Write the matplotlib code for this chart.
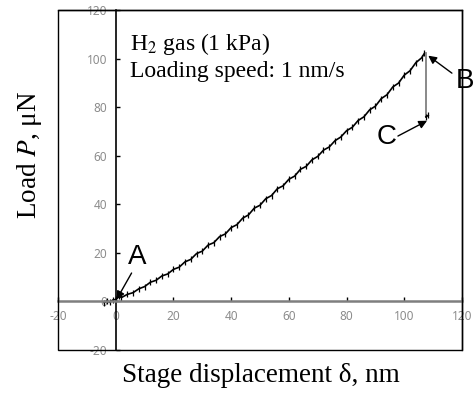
import matplotlib
matplotlib.use("Agg")
import matplotlib.pyplot as plt
from matplotlib.patches import Rectangle

# stage displacement (nm) and load (uN)
disp = [-4, -3, -2, -1, 0, 1, 2, 4, 6, 8, 10, 12, 14, 16, 18, 20, 22, 24, 26, 28,
        30, 32, 34, 36, 38, 40, 42, 44, 46, 48, 50, 52, 54, 56, 58, 60, 62, 64,
        66, 68, 70, 72, 74, 76, 78, 80, 82, 84, 86, 88, 90, 92, 94, 96, 98, 100,
        102, 104, 106, 107]
load = [-0.5, 0.3, -0.4, 0.6, 0.8, 2.2, 1.6, 2.9, 3.6, 5.2, 6.1, 7.9, 8.7, 10.5, 11.3,
        13.2, 14.1, 16.3, 17.3, 19.7, 20.7, 23.2, 24.2, 26.7, 27.8, 30.4, 31.6, 34.3,
        35.6, 38.4, 39.6, 42.3, 43.6, 46.4, 47.6, 50.3, 51.6, 54.4, 55.6, 58.3, 59.7,
        62.3, 63.6, 66.2, 67.7, 70.3, 71.7, 74.5, 76.0, 78.9, 80.4, 83.5, 85.1, 88.3,
        89.9, 93.2, 95.0, 98.3, 100.3, 102.2]

# sudden drop B -> C
drop_x = [107.5, 107.5]
drop_y = [102.2, 76.0]
after_x = [107.5, 108.3]
after_y = [76.0, 76.6]

x_ticks = [-20, 0, 20, 40, 60, 80, 100, 120]
y_ticks = [-20, 0, 20, 40, 60, 80, 100, 120]

plt.rcParams['font.family'] = 'Noto Sans'
plt.rcParams['mathtext.fontset'] = 'stix'
plt.rcParams['axes.unicode_minus'] = False
serif = 'Liberation Serif'

fig = plt.figure(figsize=(4.77, 3.95), dpi=100)
ax = fig.add_axes([58 / 477, 45 / 395, 404 / 477, 340 / 395])

ax.plot(disp, load, color='black', lw=1.2, marker='|', ms=5, mew=0.9)
ax.plot(drop_x, drop_y, color='#808080', lw=1.3)
ax.plot(after_x, after_y, color='black', lw=1.2, marker='|', ms=5, mew=0.9)

ax.set_xlim(-20, 120)
ax.set_ylim(-20, 120)
ax.set_xticks(x_ticks)
ax.set_yticks(y_ticks)

# axes crossing at the origin, plus an outer frame
ax.spines['left'].set_position(('data', 0))
ax.spines['bottom'].set_position(('data', 0))
ax.spines['left'].set_color('black')
ax.spines['left'].set_linewidth(1.2)
ax.spines['bottom'].set_color('#7f7f7f')
ax.spines['bottom'].set_linewidth(1.8)
ax.spines['top'].set_linewidth(1.0)
ax.spines['right'].set_linewidth(1.0)
ax.add_patch(Rectangle((0, 0), 1, 1, transform=ax.transAxes, fill=False,
                       ec='black', lw=1.0, clip_on=False, zorder=5))

ax.tick_params(direction='in', length=3, width=1, color='black',
               labelsize=8.5, labelcolor='#8c8c8c', pad=6)

# inset text
ax.text(0.178, 0.882, r'H$_2$ gas (1 kPa)', transform=ax.transAxes,
        fontsize=17, family=serif, va='baseline')
ax.text(0.178, 0.803, 'Loading speed: 1 nm/s', transform=ax.transAxes,
        fontsize=17, family=serif, va='baseline')

# point labels and arrows
arrow = dict(arrowstyle='-|>', color='black', lw=1.0, shrinkA=0, shrinkB=0,
             mutation_scale=12)
ax.annotate('', xy=(0.3, 0.8), xytext=(5.5, 11.7), arrowprops=arrow)
ax.annotate('', xy=(108.3, 101.2), xytext=(116.5, 94.0), arrowprops=arrow,
            annotation_clip=False)
ax.annotate('', xy=(107.9, 74.4), xytext=(97.8, 68.1), arrowprops=arrow)
ax.text(7.4, 18.3, 'A', fontsize=20, family='Liberation Sans', ha='center', va='center')
ax.text(121.0, 90.8, 'B', fontsize=20, family='Liberation Sans', ha='center',
        va='center', clip_on=False)
ax.text(94.0, 67.7, 'C', fontsize=20, family='Liberation Sans', ha='center', va='center')

fig.text(261 / 477, 1 - 382 / 395, r'Stage displacement δ, nm', fontsize=19.5,
         family=serif, ha='center', va='baseline')
fig.text(30 / 477, 1 - 155 / 395, r'Load $P$, μN', fontsize=19.5, family=serif,
         rotation=90, ha='center', va='center')

fig.savefig('out.png', dpi=100)
